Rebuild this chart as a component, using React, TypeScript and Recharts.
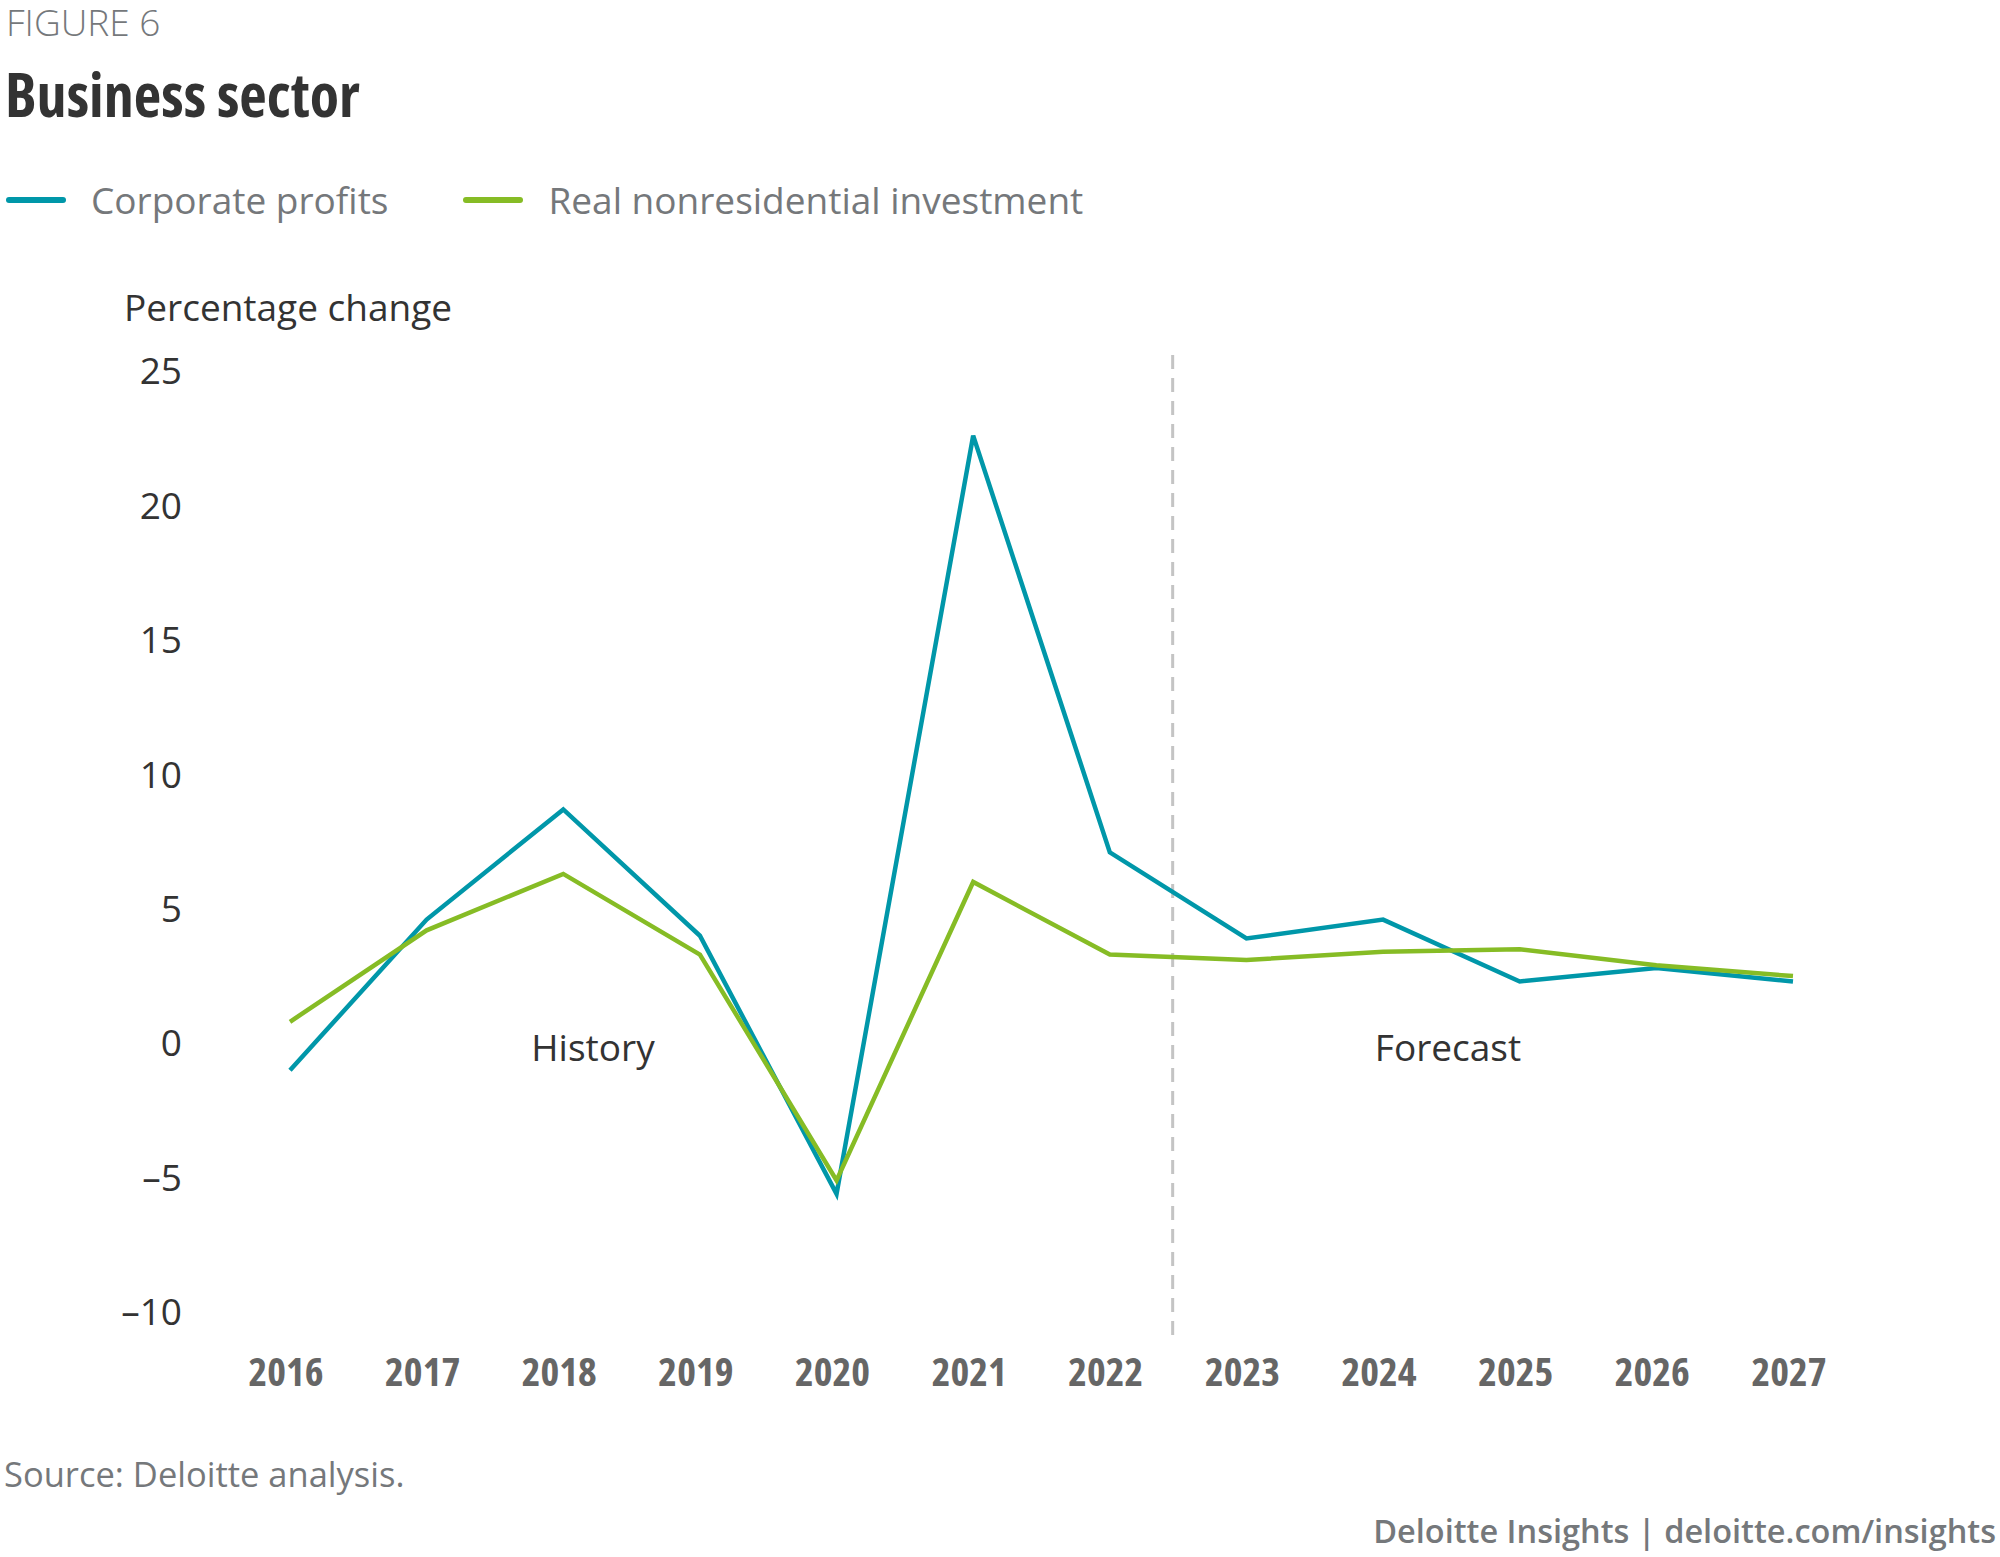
import React from "react";
import { LineChart, Line, XAxis, YAxis, ReferenceLine } from "recharts";

const years = [2016, 2017, 2018, 2019, 2020, 2021, 2022, 2023, 2024, 2025, 2026, 2027];
const corporateProfits = [-1.0, 4.6, 8.7, 4.0, -5.6, 22.6, 7.1, 3.9, 4.6, 2.3, 2.8, 2.3];
const realNonresInvestment = [0.8, 4.2, 6.3, 3.3, -5.1, 6.0, 3.3, 3.1, 3.4, 3.5, 2.9, 2.5];
const yTicks = [-10, -5, 0, 5, 10, 15, 20, 25];
const seriesNames = ["Corporate profits", "Real nonresidential investment"];
const seriesColors = ["#0097a9", "#86bc25"];
const forecastStart = 2022.46;

const data = years.map((y, i) => ({
  year: y,
  cp: corporateProfits[i],
  rni: realNonresInvestment[i],
}));

const FONT = "'Open Sans', 'Noto Sans', sans-serif";

const abs = (style: React.CSSProperties): React.CSSProperties => ({
  position: "absolute",
  whiteSpace: "nowrap",
  lineHeight: 1.3,
  fontFamily: FONT,
  ...style,
});

export default function App() {
  return (
    <div style={{ position: "absolute", left: 0, top: 0, width: 2000, height: 1557, background: "#fff", overflow: "hidden" }}>
      <div style={abs({ left: 6, top: 2, lineHeight: 1.1, fontSize: 37, fontWeight: 300, fontStretch: "90%", color: "#75787b" })}>
        FIGURE 6
      </div>
      <div style={abs({ left: 5, top: 94, transform: "translateY(-50%)", fontSize: 60, fontWeight: 700, fontStretch: "75%", color: "#333333" })}>
        Business sector
      </div>
      {/* legend */}
      <div style={abs({ left: 6, top: 200, transform: "translateY(-50%)", display: "flex", alignItems: "center" })}>
        {seriesNames.map((n, i) => (
          <div key={n} style={{ display: "flex", alignItems: "center", marginRight: i === 0 ? 75 : 0 }}>
            <div style={{ width: 60, height: 6, borderRadius: 3, background: seriesColors[i], marginRight: 25 }} />
            <span style={{ fontSize: 37, color: "#75787b", fontWeight: 400 }}>{n}</span>
          </div>
        ))}
      </div>
      <div style={abs({ left: 124, top: 307, transform: "translateY(-50%)", fontSize: 37, color: "#333333" })}>
        Percentage change
      </div>
      <div style={abs({ left: 593, top: 1047, transform: "translate(-50%, -50%)", fontSize: 37, color: "#333333" })}>
        History
      </div>
      <div style={abs({ left: 1448, top: 1047, transform: "translate(-50%, -50%)", fontSize: 37, color: "#333333" })}>
        Forecast
      </div>
      <div style={abs({ left: 4, top: 1474, transform: "translateY(-50%)", fontSize: 34.5, color: "#75787b" })}>
        Source: Deloitte analysis.
      </div>
      <div style={abs({ right: 4, top: 1531, transform: "translateY(-50%)", fontSize: 32.5, fontWeight: 600, color: "#75787b" })}>
        Deloitte Insights | deloitte.com/insights
      </div>

      <div style={{ position: "absolute", left: 0, top: 0 }}>
        <LineChart
          width={2000}
          height={1557}
          data={data}
          margin={{ top: 355, right: 207, bottom: 162, left: 140 }}
        >
          <XAxis
            type="number"
            dataKey="year"
            domain={[2016, 2027]}
            ticks={years}
            interval={0}
            axisLine={false}
            tickLine={false}
            tickSize={0}
            tickMargin={23}
            height={60}
            tick={{ fill: "#666666", fontSize: 40, fontWeight: 700, fontFamily: FONT, fontStretch: "75%", dx: -4 } as any}
          />
          <YAxis
            type="number"
            domain={[-10.85, 25.6]}
            ticks={yTicks}
            interval={0}
            width={150}
            axisLine={false}
            tickLine={false}
            tickSize={0}
            tickMargin={108}
            tickFormatter={(v: number) => (v < 0 ? "\u2013" + Math.abs(v) : String(v))}
            tick={{ fill: "#333333", fontSize: 37, fontFamily: FONT }}
          />
          <ReferenceLine x={forecastStart} stroke="#c4c4c4" strokeWidth={3} strokeDasharray="14 9" />
          <Line
            type="linear"
            dataKey="cp"
            name={seriesNames[0]}
            stroke={seriesColors[0]}
            strokeWidth={4.5}
            dot={false}
            activeDot={false}
            isAnimationActive={false}
          />
          <Line
            type="linear"
            dataKey="rni"
            name={seriesNames[1]}
            stroke={seriesColors[1]}
            strokeWidth={4.5}
            dot={false}
            activeDot={false}
            isAnimationActive={false}
          />
        </LineChart>
      </div>
    </div>
  );
}
